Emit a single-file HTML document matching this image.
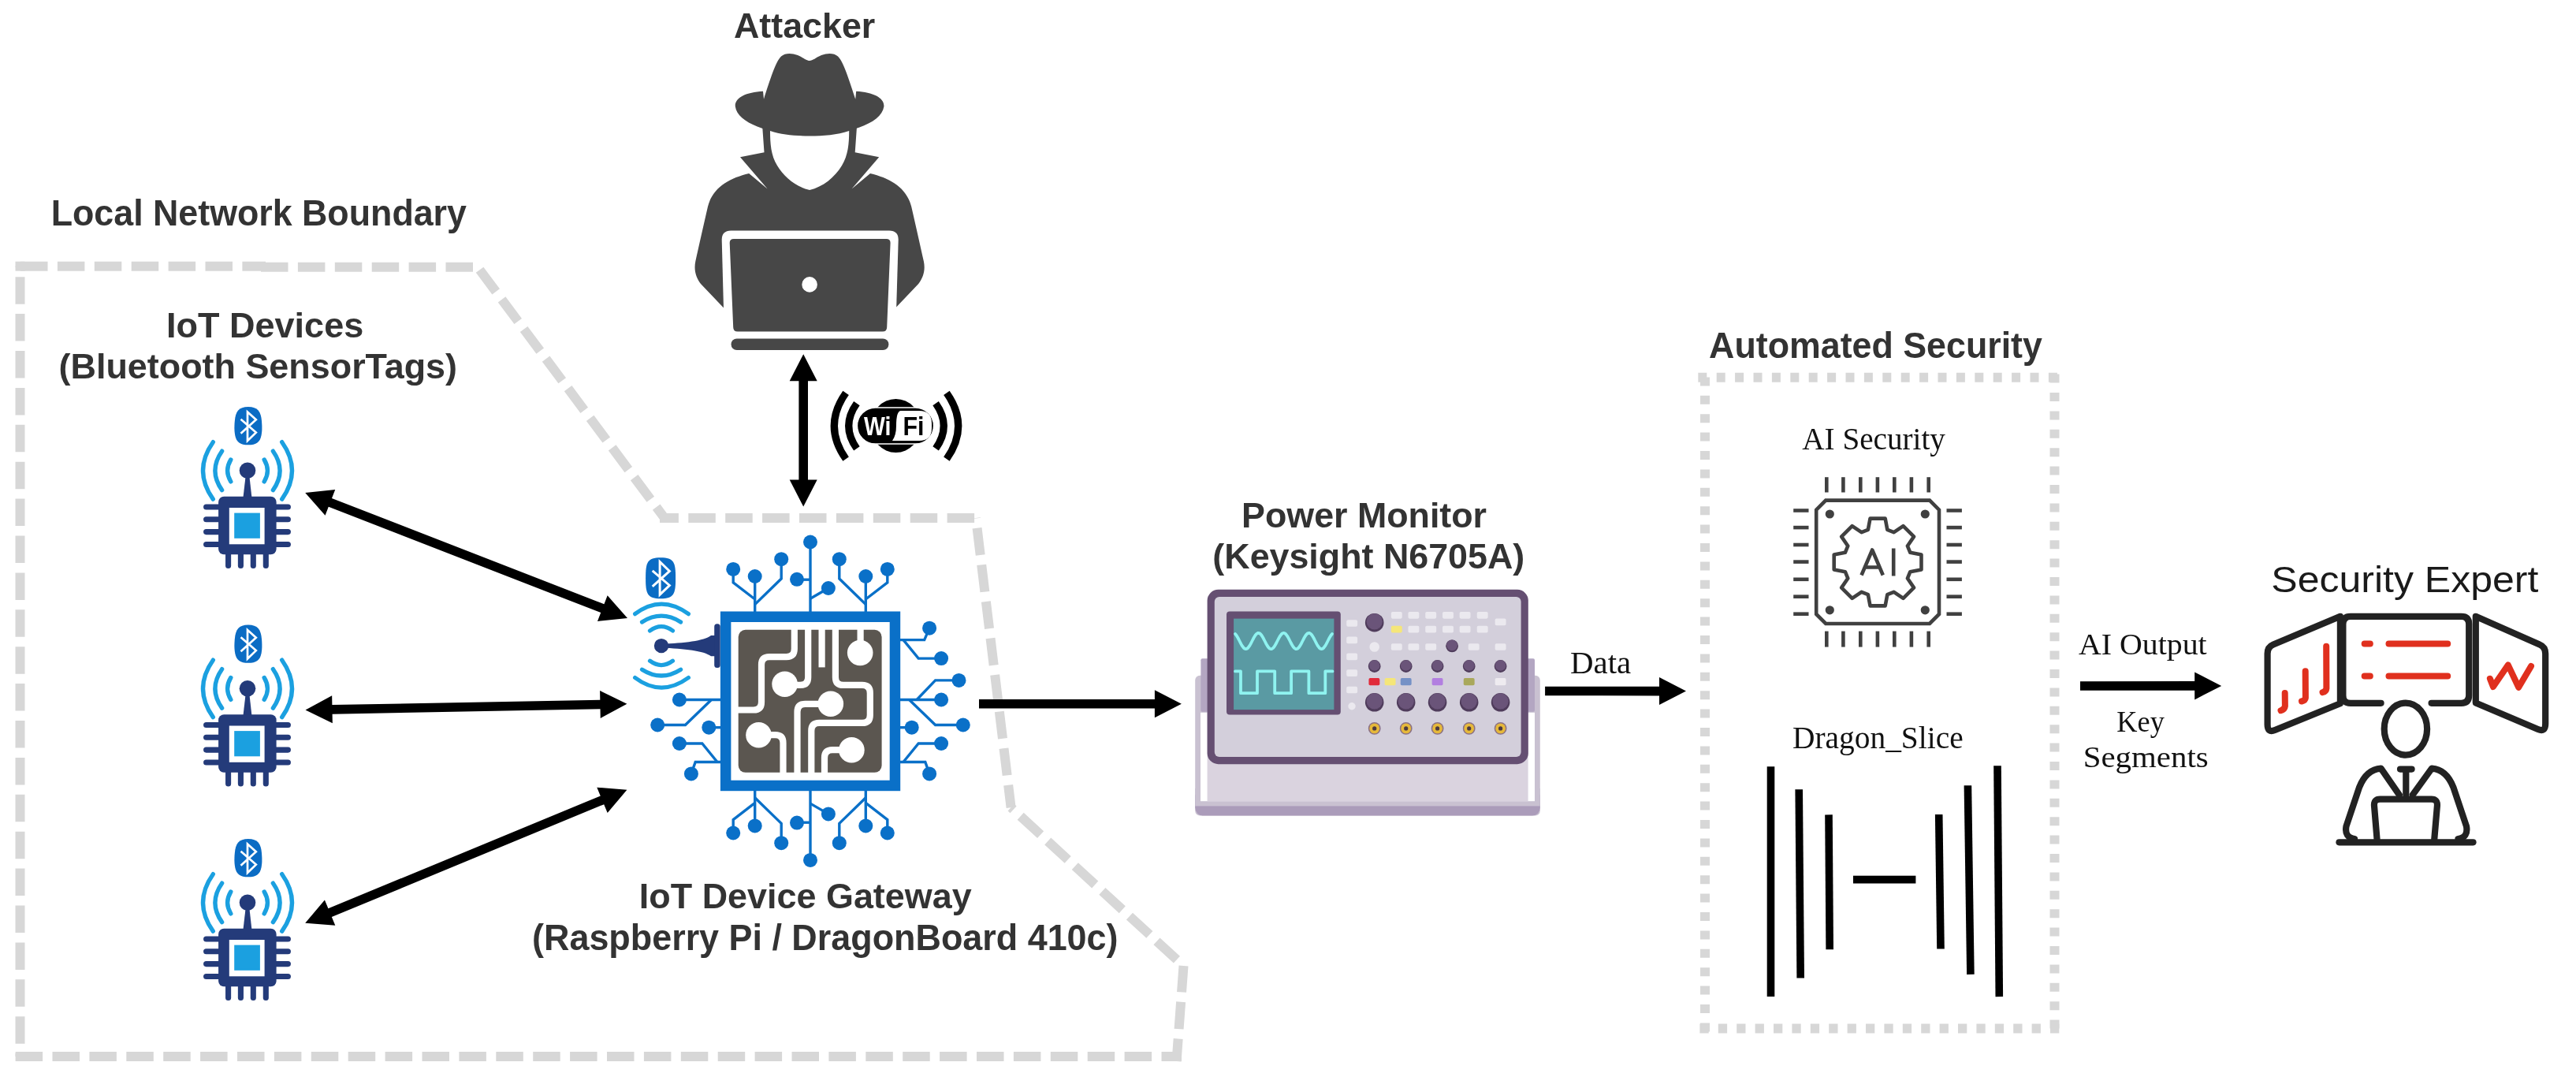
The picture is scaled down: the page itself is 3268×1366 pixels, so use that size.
<!DOCTYPE html>
<html><head><meta charset="utf-8"><style>
html,body{margin:0;padding:0;background:#fff;}
body{width:3268px;height:1366px;overflow:hidden;font-family:"Liberation Sans",sans-serif;}
svg{display:block;will-change:transform;}
</style></head><body>
<svg width="3268" height="1366" viewBox="0 0 3268 1366">
<g fill="none">
<line x1="25.5" y1="337.7" x2="337" y2="337.7" stroke="#d7d7d7" stroke-width="12" stroke-dasharray="34.5 12.4" stroke-dashoffset="46.4"/>
<rect x="19.5" y="331.7" width="12" height="12" fill="#d7d7d7"/>
<line x1="331" y1="338.8" x2="606" y2="338.8" stroke="#d7d7d7" stroke-width="12" stroke-dasharray="34.5 12.4" stroke-dashoffset="0"/>
<line x1="606" y1="338.8" x2="843" y2="657" stroke="#d7d7d7" stroke-width="12" stroke-dasharray="34.5 12.4" stroke-dashoffset="42.6"/>
<line x1="837" y1="657" x2="1244" y2="657" stroke="#d7d7d7" stroke-width="12" stroke-dasharray="34.5 12.4" stroke-dashoffset="10.6"/>
<line x1="1238" y1="657" x2="1282.6" y2="1024.2" stroke="#d7d7d7" stroke-width="12" stroke-dasharray="34.5 12.4" stroke-dashoffset="34"/>
<line x1="1282.6" y1="1024.2" x2="1501.5" y2="1225" stroke="#d7d7d7" stroke-width="12" stroke-dasharray="34.5 12.4" stroke-dashoffset="30.5"/>
<line x1="1501.5" y1="1225" x2="1492.56" y2="1345.98" stroke="#d7d7d7" stroke-width="12" stroke-dasharray="34.5 12.4" stroke-dashoffset="1"/>
<line x1="19.5" y1="1340" x2="1499" y2="1340" stroke="#d7d7d7" stroke-width="12" stroke-dasharray="34.5 12.4" stroke-dashoffset="46.8"/>
<line x1="25.5" y1="337.7" x2="25.5" y2="1340" stroke="#d7d7d7" stroke-width="12" stroke-dasharray="34.5 12.4" stroke-dashoffset="33.4"/>
<line x1="2154.3" y1="478.7" x2="2612.6" y2="478.7" stroke="#d7d7d7" stroke-width="12" stroke-dasharray="11 12.4" stroke-dashoffset="0"/>
<line x1="2606.5" y1="474.6" x2="2606.5" y2="1309.9" stroke="#d7d7d7" stroke-width="12" stroke-dasharray="11 12.4" stroke-dashoffset="0"/>
<line x1="2156.4" y1="1304.5" x2="2612.6" y2="1304.5" stroke="#d7d7d7" stroke-width="12" stroke-dasharray="11.3 12.1" stroke-dashoffset="0"/>
<line x1="2163" y1="478.4" x2="2163" y2="1309.9" stroke="#d7d7d7" stroke-width="12" stroke-dasharray="11 12.4" stroke-dashoffset="0"/>
</g>
<g fill="#000">
<polygon points="387.2,625.1 412.55,653.73 416.79,642.82 762.21,777.09 757.97,787.99 796,784 770.65,755.37 766.41,766.28 420.99,632.01 425.23,621.11"/>
<polygon points="387.5,900.5 421.82,917.36 421.6,905.66 761.52,899.24 761.74,910.94 795.4,892.8 761.08,875.94 761.3,887.64 421.38,894.06 421.16,882.36"/>
<polygon points="387.2,1170.7 425.31,1173.87 420.83,1163.06 766.2,1020.16 770.67,1030.97 795.4,1001.8 757.29,998.63 761.77,1009.44 416.4,1152.34 411.93,1141.53"/>
<polygon points="1019.2,449.2 1001.7,483.2 1013.4,483.2 1013.4,608.5 1001.7,608.5 1019.2,642.5 1036.7,608.5 1025,608.5 1025,483.2 1036.7,483.2"/>
<polygon points="1242,898.5 1464.9,898.59 1464.89,910.29 1498.9,892.8 1464.91,875.29 1464.9,886.99 1242,886.9"/>
<polygon points="1960.1,882.3 2105,882.38 2104.99,894.08 2139,876.6 2105.01,859.08 2105,870.78 1960.1,870.7"/>
<polygon points="2639,875.8 2784.2,875.72 2784.21,887.42 2818.2,869.9 2784.19,852.42 2784.2,864.12 2639,864.2"/>
</g>
<g stroke="#000" stroke-width="9.6" stroke-linecap="butt">
<line x1="2246.5" y1="972.3" x2="2246.5" y2="1264.1"/>
<line x1="2282.2" y1="1001.3" x2="2284.2" y2="1240.5"/>
<line x1="2320" y1="1033.4" x2="2321.2" y2="1204.2"/>
<line x1="2459.7" y1="1033" x2="2462" y2="1203.5"/>
<line x1="2496.4" y1="996.3" x2="2499.9" y2="1235.9"/>
<line x1="2534" y1="971.3" x2="2536.3" y2="1264.1"/>
</g>
<rect x="2351" y="1110.7" width="79.4" height="9.8" fill="#000"/>
<text x="930.98" y="48.3" font-family="&quot;Liberation Sans&quot;, sans-serif" font-weight="bold" font-size="45.24" fill="#333" textLength="179.27" lengthAdjust="spacingAndGlyphs">Attacker</text>
<text x="64.68" y="285.8" font-family="&quot;Liberation Sans&quot;, sans-serif" font-weight="bold" font-size="46.69" fill="#333" textLength="527.25" lengthAdjust="spacingAndGlyphs">Local Network Boundary</text>
<text x="211.06" y="427.8" font-family="&quot;Liberation Sans&quot;, sans-serif" font-weight="bold" font-size="44.51" fill="#333" textLength="250.18" lengthAdjust="spacingAndGlyphs">IoT Devices</text>
<text x="74.56" y="480" font-family="&quot;Liberation Sans&quot;, sans-serif" font-weight="bold" font-size="44.8" fill="#333" textLength="505.47" lengthAdjust="spacingAndGlyphs">(Bluetooth SensorTags)</text>
<text x="810.87" y="1152.3" font-family="&quot;Liberation Sans&quot;, sans-serif" font-weight="bold" font-size="44.8" fill="#333" textLength="421.8" lengthAdjust="spacingAndGlyphs">IoT Device Gateway</text>
<text x="675.06" y="1204.6" font-family="&quot;Liberation Sans&quot;, sans-serif" font-weight="bold" font-size="45.67" fill="#333" textLength="743.44" lengthAdjust="spacingAndGlyphs">(Raspberry Pi / DragonBoard 410c)</text>
<text x="1575.08" y="668.6" font-family="&quot;Liberation Sans&quot;, sans-serif" font-weight="bold" font-size="44.65" fill="#333" textLength="310.97" lengthAdjust="spacingAndGlyphs">Power Monitor</text>
<text x="1538.36" y="720.8" font-family="&quot;Liberation Sans&quot;, sans-serif" font-weight="bold" font-size="45.09" fill="#333" textLength="395.83" lengthAdjust="spacingAndGlyphs">(Keysight N6705A)</text>
<text x="2168.08" y="454.2" font-family="&quot;Liberation Sans&quot;, sans-serif" font-weight="bold" font-size="45.67" fill="#333" textLength="422.81" lengthAdjust="spacingAndGlyphs">Automated Security</text>
<text x="2286.31" y="569.5" font-family="&quot;Liberation Serif&quot;, sans-serif" font-weight="normal" font-size="40.46" fill="#111" textLength="181.6" lengthAdjust="spacingAndGlyphs">AI Security</text>
<text x="2274.02" y="948.7" font-family="&quot;Liberation Serif&quot;, sans-serif" font-weight="normal" font-size="39.24" fill="#111" textLength="216.61" lengthAdjust="spacingAndGlyphs">Dragon_Slice</text>
<text x="1992.07" y="854.2" font-family="&quot;Liberation Serif&quot;, sans-serif" font-weight="normal" font-size="39.54" fill="#111" textLength="77.15" lengthAdjust="spacingAndGlyphs">Data</text>
<text x="2637" y="829.6" font-family="&quot;Liberation Serif&quot;, sans-serif" font-weight="normal" font-size="38.93" fill="#111" textLength="162.62" lengthAdjust="spacingAndGlyphs">AI Output</text>
<text x="2685.31" y="927.5" font-family="&quot;Liberation Serif&quot;, sans-serif" font-weight="normal" font-size="38.93" fill="#111" textLength="60.51" lengthAdjust="spacingAndGlyphs">Key</text>
<text x="2642.74" y="972.6" font-family="&quot;Liberation Serif&quot;, sans-serif" font-weight="normal" font-size="38.32" fill="#111" textLength="158.94" lengthAdjust="spacingAndGlyphs">Segments</text>
<text x="2881.35" y="750.9" font-family="&quot;Liberation Sans&quot;, sans-serif" font-weight="normal" font-size="46.55" fill="#1a1a1a" textLength="338.95" lengthAdjust="spacingAndGlyphs">Security Expert</text>
<g fill="#474747"><path d="M968 115.7 L969 125.7 C977 101 984 78 991 71.5 C996 67 1004 67 1012 70 C1019 73 1023 77 1027.1 77 C1031 77 1035 73 1042 70 C1050 67 1058 67 1063 71.5 C1070 78 1077 101 1085.2 125.7 L1086.2 115.7 C1108 117 1122 124 1121.4 135 C1118 158 1072 171.4 1027.1 171.4 C982 171.4 936 158 932.8 135 C932 124 946 117 968 115.7 Z"/><path d="M967 158 L969.5 193.3 L939 199.3 L973.6 239.4 L950.2 220 C925 226 904 238 898 262 C892 288 886 315 882.3 331.4 C880 343 883 352 889 360 L919 391.6 L1135.2 391.6 L1165.2 360 C1171.2 352 1174.2 343 1171.9 331.4 C1168.2 315 1162.2 288 1156.2 262 C1150.2 238 1129.2 226 1104 220 L1080.6 239.4 L1115.2 199.3 L1084.7 193.3 L1087.2 158 Z"/></g><path fill="#fff" d="M977 166 C977 182 978 197 986 210 C995 225 1010 237 1027.1 241 C1044 237 1059 225 1068 210 C1076 197 1077.2 182 1077.2 166 C1062 171 1045 172.5 1027.1 172.5 C1009 172.5 992 171 977 166 Z"/><path fill="#fff" d="M915.7 304 Q915.7 292.4 927.3 292.4 L1128.1 292.4 Q1139.7 292.4 1139.7 304 L1136 430 L919 430 Z"/><path fill="#474747" d="M925.7 308 Q925.7 302.9 931 302.9 L1124.3 302.9 Q1129.6 302.9 1129.6 308 L1125.2 415 Q1125.2 420.6 1119.6 420.6 L935.8 420.6 Q930.2 420.6 930.2 415 Z"/><circle cx="1027.1" cy="360.9" r="9.8" fill="#fff"/><rect x="927.5" y="429.5" width="199.9" height="14.5" rx="7.2" fill="#474747"/><g><path d="M1073.1 498.3 Q1043.5 540.2 1073.1 582.1" fill="none" stroke="#000" stroke-width="9.2"/><path d="M1200.9 498.3 Q1230.5 540.2 1200.9 582.1" fill="none" stroke="#000" stroke-width="9.2"/><path d="M1086.9 511.6 Q1066.5 540.2 1086.9 568.8" fill="none" stroke="#000" stroke-width="9.2"/><path d="M1187.1 511.6 Q1207.5 540.2 1187.1 568.8" fill="none" stroke="#000" stroke-width="9.2"/><ellipse cx="1136.5" cy="540" rx="32" ry="34" fill="#000"/><rect x="1087.5" y="517" width="97" height="46" rx="23" fill="#000" stroke="#fff" stroke-width="1.3"/><path d="M1143 521 L1166 521 Q1182 521 1182 537 L1182 543 Q1182 559 1166 559 L1132 559 Q1137 552 1137 540 Q1137 521 1143 521 Z" fill="#fff"/><text x="1096" y="552.4" font-family="&quot;Liberation Sans&quot;, sans-serif" font-weight="bold" font-size="33" fill="#fff" textLength="34.5" lengthAdjust="spacingAndGlyphs">Wi</text><text x="1145.5" y="552.4" font-family="&quot;Liberation Sans&quot;, sans-serif" font-weight="bold" font-size="33" fill="#000" textLength="27" lengthAdjust="spacingAndGlyphs">Fi</text></g><g transform="translate(0 0)"><path fill="#0b6cc4" d="M314.9 516 C327 516 331 522 332 534 C332.6 542 332.6 546 331.6 552 C330 561 325 564.3 314.9 564.3 C304.8 564.3 299.8 561 298.2 552 C297.2 546 297.2 542 297.8 534 C298.8 522 302.8 516 314.9 516 Z"/><path fill="none" stroke="#fff" stroke-width="2.7" stroke-linejoin="miter" d="M305.5 531.7 L324.8 548.6 L314 559 L314 522.5 L324.8 532.3 L305.5 549.8"/><g fill="none" stroke="#1ba0e0" stroke-width="5.4" stroke-linecap="round"><path d="M292.8 583 Q284.4 596.9 292.8 610.8"/><path d="M335.2 583 Q343.6 596.9 335.2 610.8"/><path d="M281.6 572.2 Q264.2 596.9 281.6 621.6"/><path d="M346.4 572.2 Q363.8 596.9 346.4 621.6"/><path d="M270.3 560.7 Q244.7 596.9 270.3 633.1"/><path d="M357.7 560.7 Q383.3 596.9 357.7 633.1"/></g><circle cx="314" cy="596.7" r="10.3" fill="#243b7a"/><path fill="#243b7a" d="M311.6 604 L316.4 604 L319.4 631 L308.5 631 Z"/><g stroke="#243b7a" stroke-width="7.1" stroke-linecap="round"><line x1="261.6" y1="643" x2="280" y2="643"/><line x1="348" y1="643" x2="365.4" y2="643"/><line x1="261.6" y1="658.8" x2="280" y2="658.8"/><line x1="348" y1="658.8" x2="365.4" y2="658.8"/><line x1="261.6" y1="674.6" x2="280" y2="674.6"/><line x1="348" y1="674.6" x2="365.4" y2="674.6"/><line x1="261.6" y1="690.5" x2="280" y2="690.5"/><line x1="348" y1="690.5" x2="365.4" y2="690.5"/><line x1="289.6" y1="700" x2="289.6" y2="717.5"/><line x1="305.4" y1="700" x2="305.4" y2="717.5"/><line x1="321.3" y1="700" x2="321.3" y2="717.5"/><line x1="337.3" y1="700" x2="337.3" y2="717.5"/></g><rect x="277.1" y="629.7" width="73.5" height="73.5" rx="7" fill="#243b7a"/><rect x="290.8" y="644" width="44.8" height="46.3" fill="#fff"/><rect x="297.2" y="650.6" width="32.7" height="32.2" fill="#1ba0e0"/></g><g transform="translate(0 276.5)"><path fill="#0b6cc4" d="M314.9 516 C327 516 331 522 332 534 C332.6 542 332.6 546 331.6 552 C330 561 325 564.3 314.9 564.3 C304.8 564.3 299.8 561 298.2 552 C297.2 546 297.2 542 297.8 534 C298.8 522 302.8 516 314.9 516 Z"/><path fill="none" stroke="#fff" stroke-width="2.7" stroke-linejoin="miter" d="M305.5 531.7 L324.8 548.6 L314 559 L314 522.5 L324.8 532.3 L305.5 549.8"/><g fill="none" stroke="#1ba0e0" stroke-width="5.4" stroke-linecap="round"><path d="M292.8 583 Q284.4 596.9 292.8 610.8"/><path d="M335.2 583 Q343.6 596.9 335.2 610.8"/><path d="M281.6 572.2 Q264.2 596.9 281.6 621.6"/><path d="M346.4 572.2 Q363.8 596.9 346.4 621.6"/><path d="M270.3 560.7 Q244.7 596.9 270.3 633.1"/><path d="M357.7 560.7 Q383.3 596.9 357.7 633.1"/></g><circle cx="314" cy="596.7" r="10.3" fill="#243b7a"/><path fill="#243b7a" d="M311.6 604 L316.4 604 L319.4 631 L308.5 631 Z"/><g stroke="#243b7a" stroke-width="7.1" stroke-linecap="round"><line x1="261.6" y1="643" x2="280" y2="643"/><line x1="348" y1="643" x2="365.4" y2="643"/><line x1="261.6" y1="658.8" x2="280" y2="658.8"/><line x1="348" y1="658.8" x2="365.4" y2="658.8"/><line x1="261.6" y1="674.6" x2="280" y2="674.6"/><line x1="348" y1="674.6" x2="365.4" y2="674.6"/><line x1="261.6" y1="690.5" x2="280" y2="690.5"/><line x1="348" y1="690.5" x2="365.4" y2="690.5"/><line x1="289.6" y1="700" x2="289.6" y2="717.5"/><line x1="305.4" y1="700" x2="305.4" y2="717.5"/><line x1="321.3" y1="700" x2="321.3" y2="717.5"/><line x1="337.3" y1="700" x2="337.3" y2="717.5"/></g><rect x="277.1" y="629.7" width="73.5" height="73.5" rx="7" fill="#243b7a"/><rect x="290.8" y="644" width="44.8" height="46.3" fill="#fff"/><rect x="297.2" y="650.6" width="32.7" height="32.2" fill="#1ba0e0"/></g><g transform="translate(0 548)"><path fill="#0b6cc4" d="M314.9 516 C327 516 331 522 332 534 C332.6 542 332.6 546 331.6 552 C330 561 325 564.3 314.9 564.3 C304.8 564.3 299.8 561 298.2 552 C297.2 546 297.2 542 297.8 534 C298.8 522 302.8 516 314.9 516 Z"/><path fill="none" stroke="#fff" stroke-width="2.7" stroke-linejoin="miter" d="M305.5 531.7 L324.8 548.6 L314 559 L314 522.5 L324.8 532.3 L305.5 549.8"/><g fill="none" stroke="#1ba0e0" stroke-width="5.4" stroke-linecap="round"><path d="M292.8 583 Q284.4 596.9 292.8 610.8"/><path d="M335.2 583 Q343.6 596.9 335.2 610.8"/><path d="M281.6 572.2 Q264.2 596.9 281.6 621.6"/><path d="M346.4 572.2 Q363.8 596.9 346.4 621.6"/><path d="M270.3 560.7 Q244.7 596.9 270.3 633.1"/><path d="M357.7 560.7 Q383.3 596.9 357.7 633.1"/></g><circle cx="314" cy="596.7" r="10.3" fill="#243b7a"/><path fill="#243b7a" d="M311.6 604 L316.4 604 L319.4 631 L308.5 631 Z"/><g stroke="#243b7a" stroke-width="7.1" stroke-linecap="round"><line x1="261.6" y1="643" x2="280" y2="643"/><line x1="348" y1="643" x2="365.4" y2="643"/><line x1="261.6" y1="658.8" x2="280" y2="658.8"/><line x1="348" y1="658.8" x2="365.4" y2="658.8"/><line x1="261.6" y1="674.6" x2="280" y2="674.6"/><line x1="348" y1="674.6" x2="365.4" y2="674.6"/><line x1="261.6" y1="690.5" x2="280" y2="690.5"/><line x1="348" y1="690.5" x2="365.4" y2="690.5"/><line x1="289.6" y1="700" x2="289.6" y2="717.5"/><line x1="305.4" y1="700" x2="305.4" y2="717.5"/><line x1="321.3" y1="700" x2="321.3" y2="717.5"/><line x1="337.3" y1="700" x2="337.3" y2="717.5"/></g><rect x="277.1" y="629.7" width="73.5" height="73.5" rx="7" fill="#243b7a"/><rect x="290.8" y="644" width="44.8" height="46.3" fill="#fff"/><rect x="297.2" y="650.6" width="32.7" height="32.2" fill="#1ba0e0"/></g>
<g><g fill="none" stroke="#0a70c8" stroke-width="3.4" stroke-linejoin="miter"><polyline points="1028,776 1028,687.5"/><polyline points="1028,735.2 1011,735.2"/><polyline points="1028,759.3 1050.9,746"/><polyline points="957.7,776 957.7,731"/><polyline points="957.7,760 930.2,738.8 930.2,721.9"/><polyline points="957.7,766.6 991.2,734 991.2,709.2"/><polyline points="1098.3,776 1098.3,731"/><polyline points="1098.3,760 1125.8,738.8 1125.8,721.9"/><polyline points="1098.3,766.6 1064.8,734 1064.8,709.2"/><polyline points="1028,1002.4 1028,1090.9"/><polyline points="1028,1043.2 1011,1043.2"/><polyline points="1028,1019.1 1050.9,1032.4"/><polyline points="957.7,1002.4 957.7,1047.4"/><polyline points="957.7,1018.4 930.2,1039.6 930.2,1056.5"/><polyline points="957.7,1011.8 991.2,1044.4 991.2,1069.2"/><polyline points="1098.3,1002.4 1098.3,1047.4"/><polyline points="1098.3,1018.4 1125.8,1039.6 1125.8,1056.5"/><polyline points="1098.3,1011.8 1064.8,1044.4 1064.8,1069.2"/><polyline points="1141,811.6 1172.7,811.6 1179.1,796.7"/><polyline points="1146,811.6 1165.2,835.1 1194.1,835.1"/><polyline points="1141,887.5 1194.1,887.5"/><polyline points="1163.1,887.5 1186.6,862.9 1216.5,862.9"/><polyline points="1153.5,887.5 1186.6,919.5 1221.8,919.5"/><polyline points="1141,922.7 1156.7,922.7"/><polyline points="1141,966.5 1173.8,966.5 1179.1,981.4"/><polyline points="1146,966.5 1165.2,943 1194.1,943"/><polyline points="915,887.5 861.9,887.5"/><polyline points="902.5,887.5 869.4,919.5 834.2,919.5"/><polyline points="915,922.7 899.3,922.7"/><polyline points="915,966.5 882.2,966.5 876.9,981.4"/><polyline points="910,966.5 890.8,943 861.9,943"/></g><g fill="#0a70c8"><circle cx="1028" cy="687.5" r="9"/><circle cx="1011" cy="734.8" r="9"/><circle cx="1050.9" cy="746" r="9"/><circle cx="957.7" cy="731" r="9"/><circle cx="930.2" cy="721.9" r="9"/><circle cx="991.2" cy="709.2" r="9"/><circle cx="1098.3" cy="731" r="9"/><circle cx="1125.8" cy="721.9" r="9"/><circle cx="1064.8" cy="709.2" r="9"/><circle cx="1028" cy="1090.9" r="9"/><circle cx="1011" cy="1043.6" r="9"/><circle cx="1050.9" cy="1032.4" r="9"/><circle cx="957.7" cy="1047.4" r="9"/><circle cx="930.2" cy="1056.5" r="9"/><circle cx="991.2" cy="1069.2" r="9"/><circle cx="1098.3" cy="1047.4" r="9"/><circle cx="1125.8" cy="1056.5" r="9"/><circle cx="1064.8" cy="1069.2" r="9"/><circle cx="1179.1" cy="796.7" r="9"/><circle cx="1194.1" cy="835.1" r="9"/><circle cx="1194.1" cy="887.5" r="9"/><circle cx="1216.5" cy="862.9" r="9"/><circle cx="1221.8" cy="919.5" r="9"/><circle cx="1156.7" cy="922.7" r="9"/><circle cx="1179.1" cy="981.4" r="9"/><circle cx="1194.1" cy="943" r="9"/><circle cx="861.9" cy="887.5" r="9"/><circle cx="834.2" cy="919.5" r="9"/><circle cx="899.3" cy="922.7" r="9"/><circle cx="876.9" cy="981.4" r="9"/><circle cx="861.9" cy="943" r="9"/></g><rect x="920.65" y="782.25" width="214.8" height="214.2" fill="#fff" stroke="#0a70c8" stroke-width="13.5"/><rect x="936.7" y="798.8" width="181.9" height="181" rx="9" fill="#5b5650"/><g fill="none" stroke="#fff" stroke-width="8.2" stroke-linecap="butt"><path d="M1007.8 790 L1007.8 823.1 Q1007.8 833.1 997.8 833.1 L976 833.1 Q966 833.1 966 843.1 L966 890.5 Q966 900.5 956 900.5 L932 900.5"/><path d="M1025.2 790 L1025.2 858.9 Q1025.2 868.9 1015.2 868.9 L995.6 868.9"/><path d="M1042.6 790 L1042.6 846.4"/><path d="M1059.9 790 L1059.9 858.9 Q1059.9 868.9 1069.9 868.9 L1093.8 868.9 Q1103.8 868.9 1103.8 878.9 L1103.8 906.9 Q1103.8 916.9 1093.8 916.9 L1039.3 916.9 Q1029.3 916.9 1029.3 926.9 L1029.3 985"/><path d="M1091.6 790 L1091.6 828"/><path d="M1053.8 892.8 L1021.5 892.8 Q1011.5 892.8 1011.5 902.8 L1011.5 985"/><path d="M962.5 932.2 L983.5 932.2 Q993.5 932.2 993.5 942.2 L993.5 985"/><path d="M1080.4 951.2 L1056 951.2 Q1046 951.2 1046 961.2 L1046 985"/></g><g fill="#fff"><circle cx="995.6" cy="867.8" r="16.3"/><circle cx="1091.2" cy="828" r="16.3"/><circle cx="1053.8" cy="892.8" r="16.3"/><circle cx="962.5" cy="932.2" r="16.3"/><circle cx="1080.4" cy="951.2" r="16.3"/></g><g fill="none" stroke="#1ba0e0" stroke-width="5.2" stroke-linecap="round"><path d="M824.5 800 Q839 789.2 853.5 800"/><path d="M824.5 838.2 Q839 849 853.5 838.2"/><path d="M814.5 789 Q839 773.4 863.6 789"/><path d="M814.5 849.2 Q839 864.8 863.6 849.2"/><path d="M805.6 778.7 Q839 753.5 873.4 778.7"/><path d="M805.6 859.5 Q839 884.7 873.4 859.5"/></g><path fill="#243b7a" d="M839 816.8 C868 815.5 893 813 902 806 L908 806 L908 832.2 L902 832.2 C893 825.2 868 822.7 839 821.4 Z"/><rect x="906.2" y="791.2" width="7.5" height="55.8" rx="3.5" fill="#243b7a"/><circle cx="839" cy="819.1" r="9.2" fill="#243b7a"/><path fill="#0b6cc4" d="M838.1 707.2 C855.2 707.2 857.1 713.44 857.1 733.2 C857.1 752.96 855.2 759.2 838.1 759.2 C821 759.2 819.1 752.96 819.1 733.2 C819.1 713.44 821 707.2 838.1 707.2 Z"/><path fill="none" stroke="#fff" stroke-width="2.98" d="M827.72 723.81 L849.37 742.48 L837.11 754.19 L837.11 712.54 L849.37 724.47 L827.72 743.8"/></g>
<g><rect x="1516.2" y="856.8" width="437.6" height="177.8" rx="6" fill="#c9c1d1"/><rect x="1516.2" y="1000" width="437.6" height="34.6" rx="10" fill="#ab9cba"/><rect x="1516.2" y="1000" width="437.6" height="22.4" fill="#c9c1d1"/><rect x="1523" y="903.8" width="424" height="112.4" fill="#fff"/><rect x="1531.6" y="900" width="407" height="116.2" fill="#dad3df"/><rect x="1523.4" y="835.3" width="10" height="67.5" rx="2" fill="#b3a6c2"/><rect x="1937" y="835.3" width="10" height="67.5" rx="2" fill="#b3a6c2"/><rect x="1531.6" y="747.8" width="407.2" height="221.4" rx="14" fill="#654f72"/><rect x="1540.8" y="757" width="388.8" height="203" rx="6" fill="#d3cfdb"/><rect x="1556" y="775.6" width="144.8" height="130.9" rx="4" fill="#654f72"/><rect x="1565.1" y="784.6" width="127.3" height="115.5" fill="#5a9aa3"/><polyline points="1567,804 1568.5,805.79 1570,808.19 1571.5,811.01 1573,814 1574.5,816.9 1576,819.47 1577.5,821.48 1579,822.76 1580.5,823.2 1582,822.76 1583.5,821.48 1585,819.47 1586.5,816.9 1588,814 1589.5,811.01 1591,808.19 1592.5,805.79 1594,804 1595.5,803 1597,802.85 1598.5,803.58 1600,805.12 1601.5,807.33 1603,810.04 1604.5,813 1606,815.96 1607.5,818.67 1609,820.88 1610.5,822.42 1612,823.15 1613.5,823 1615,822 1616.5,820.21 1618,817.81 1619.5,814.99 1621,812 1622.5,809.1 1624,806.53 1625.5,804.52 1627,803.24 1628.5,802.8 1630,803.24 1631.5,804.52 1633,806.53 1634.5,809.1 1636,812 1637.5,814.99 1639,817.81 1640.5,820.21 1642,822 1643.5,823 1645,823.15 1646.5,822.42 1648,820.88 1649.5,818.67 1651,815.96 1652.5,813 1654,810.04 1655.5,807.33 1657,805.12 1658.5,803.58 1660,802.85 1661.5,803 1663,804 1664.5,805.79 1666,808.19 1667.5,811.01 1669,814 1670.5,816.9 1672,819.47 1673.5,821.48 1675,822.76 1676.5,823.2 1678,822.76 1679.5,821.48 1681,819.47 1682.5,816.9 1684,814 1685.5,811.01 1687,808.19 1688.5,805.79 1690,804" fill="none" stroke="#8ff3f0" stroke-width="3.8" stroke-linejoin="round" stroke-linecap="round"/><path d="M1567 851.4 L1574 851.4 L1574 879.2 L1595 879.2 L1595 851.4 L1617.2 851.4 L1617.2 879.2 L1638.1 879.2 L1638.1 851.4 L1660.4 851.4 L1660.4 879.2 L1681.3 879.2 L1681.3 851.4 L1690.5 851.4" fill="none" stroke="#8ff3f0" stroke-width="3.8" stroke-linejoin="round" stroke-linecap="round"/><rect x="1708.2" y="786.15" width="13.9" height="8.7" rx="2" fill="#ebe9ef"/><rect x="1708.2" y="807.45" width="13.9" height="8.7" rx="2" fill="#ebe9ef"/><rect x="1708.2" y="828.45" width="13.9" height="8.7" rx="2" fill="#ebe9ef"/><rect x="1708.2" y="849.35" width="13.9" height="8.7" rx="2" fill="#ebe9ef"/><rect x="1708.2" y="870.65" width="13.9" height="8.7" rx="2" fill="#ebe9ef"/><circle cx="1715" cy="895.8" r="4.7" fill="#ebe9ef"/><rect x="1764.85" y="775.95" width="13.9" height="8.7" rx="1.8" fill="#ebe9ef"/><rect x="1786.45" y="775.95" width="13.9" height="8.7" rx="1.8" fill="#ebe9ef"/><rect x="1808.25" y="775.95" width="13.9" height="8.7" rx="1.8" fill="#ebe9ef"/><rect x="1830.05" y="775.95" width="13.9" height="8.7" rx="1.8" fill="#ebe9ef"/><rect x="1851.65" y="775.95" width="13.9" height="8.7" rx="1.8" fill="#ebe9ef"/><rect x="1873.75" y="775.95" width="13.9" height="8.7" rx="1.8" fill="#ebe9ef"/><rect x="1896.65" y="784.55" width="13.9" height="8.7" rx="1.8" fill="#ebe9ef"/><rect x="1764.85" y="793.75" width="13.9" height="8.7" rx="1.8" fill="#f5e679"/><rect x="1786.45" y="793.75" width="13.9" height="8.7" rx="1.8" fill="#ebe9ef"/><rect x="1808.25" y="793.75" width="13.9" height="8.7" rx="1.8" fill="#ebe9ef"/><rect x="1830.05" y="793.75" width="13.9" height="8.7" rx="1.8" fill="#ebe9ef"/><rect x="1851.65" y="793.75" width="13.9" height="8.7" rx="1.8" fill="#ebe9ef"/><rect x="1873.75" y="793.75" width="13.9" height="8.7" rx="1.8" fill="#ebe9ef"/><circle cx="1743.7" cy="789.7" r="11.8" fill="#4f3c5b"/><circle cx="1743.7" cy="788.28" r="10.15" fill="#6a5479"/><circle cx="1743.7" cy="820.5" r="6.3" fill="#ebe9ef"/><rect x="1764.85" y="816.15" width="13.9" height="8.7" rx="1.8" fill="#ebe9ef"/><rect x="1786.45" y="816.15" width="13.9" height="8.7" rx="1.8" fill="#ebe9ef"/><rect x="1808.25" y="816.15" width="13.9" height="8.7" rx="1.8" fill="#ebe9ef"/><circle cx="1842.1" cy="819.3" r="7.9" fill="#4f3c5b"/><circle cx="1842.1" cy="818.35" r="6.79" fill="#6a5479"/><rect x="1862.75" y="816.15" width="13.9" height="8.7" rx="1.8" fill="#ebe9ef"/><rect x="1896.65" y="816.15" width="13.9" height="8.7" rx="1.8" fill="#ebe9ef"/><circle cx="1743.7" cy="845" r="7.9" fill="#4f3c5b"/><circle cx="1743.7" cy="844.05" r="6.79" fill="#6a5479"/><circle cx="1783.7" cy="845" r="7.9" fill="#4f3c5b"/><circle cx="1783.7" cy="844.05" r="6.79" fill="#6a5479"/><circle cx="1823.6" cy="845" r="7.9" fill="#4f3c5b"/><circle cx="1823.6" cy="844.05" r="6.79" fill="#6a5479"/><circle cx="1863.7" cy="845" r="7.9" fill="#4f3c5b"/><circle cx="1863.7" cy="844.05" r="6.79" fill="#6a5479"/><circle cx="1903.6" cy="845" r="7.9" fill="#4f3c5b"/><circle cx="1903.6" cy="844.05" r="6.79" fill="#6a5479"/><rect x="1736.45" y="860.1" width="13.9" height="9.2" rx="1.8" fill="#e12b3b"/><rect x="1756.65" y="860.1" width="13.9" height="9.2" rx="1.8" fill="#f5e679"/><rect x="1776.75" y="860.1" width="13.9" height="9.2" rx="1.8" fill="#7591c6"/><rect x="1816.65" y="860.1" width="13.9" height="9.2" rx="1.8" fill="#b27fe0"/><rect x="1856.75" y="860.1" width="13.9" height="9.2" rx="1.8" fill="#a9a85c"/><rect x="1896.65" y="860.1" width="13.9" height="9.2" rx="1.8" fill="#eeebf0"/><circle cx="1743.7" cy="890.8" r="11.8" fill="#4f3c5b"/><circle cx="1743.7" cy="889.38" r="10.15" fill="#6a5479"/><circle cx="1783.7" cy="890.8" r="11.8" fill="#4f3c5b"/><circle cx="1783.7" cy="889.38" r="10.15" fill="#6a5479"/><circle cx="1823.6" cy="890.8" r="11.8" fill="#4f3c5b"/><circle cx="1823.6" cy="889.38" r="10.15" fill="#6a5479"/><circle cx="1863.7" cy="890.8" r="11.8" fill="#4f3c5b"/><circle cx="1863.7" cy="889.38" r="10.15" fill="#6a5479"/><circle cx="1903.6" cy="890.8" r="11.8" fill="#4f3c5b"/><circle cx="1903.6" cy="889.38" r="10.15" fill="#6a5479"/><circle cx="1743.7" cy="923.9" r="7.9" fill="#8b7184"/><circle cx="1743.7" cy="923.9" r="6.4" fill="#e6b93a"/><circle cx="1743.7" cy="923.9" r="2.6" fill="#4b3a40"/><circle cx="1783.7" cy="923.9" r="7.9" fill="#8b7184"/><circle cx="1783.7" cy="923.9" r="6.4" fill="#e6b93a"/><circle cx="1783.7" cy="923.9" r="2.6" fill="#4b3a40"/><circle cx="1823.6" cy="923.9" r="7.9" fill="#8b7184"/><circle cx="1823.6" cy="923.9" r="6.4" fill="#e6b93a"/><circle cx="1823.6" cy="923.9" r="2.6" fill="#4b3a40"/><circle cx="1863.7" cy="923.9" r="7.9" fill="#8b7184"/><circle cx="1863.7" cy="923.9" r="6.4" fill="#e6b93a"/><circle cx="1863.7" cy="923.9" r="2.6" fill="#4b3a40"/><circle cx="1903.6" cy="923.9" r="7.9" fill="#8b7184"/><circle cx="1903.6" cy="923.9" r="6.4" fill="#e6b93a"/><circle cx="1903.6" cy="923.9" r="2.6" fill="#4b3a40"/></g><g fill="none" stroke="#404040" stroke-width="4.6"><path d="M2316.2 634.6 L2448 634.6 L2460 646.6 L2460 779 L2448 791 L2316.2 791 L2304.2 779 L2304.2 646.6 Z"/><line x1="2317.3" y1="605.2" x2="2317.3" y2="624.5"/><line x1="2317.3" y1="800.6" x2="2317.3" y2="820.6"/><line x1="2338.4" y1="605.2" x2="2338.4" y2="624.5"/><line x1="2338.4" y1="800.6" x2="2338.4" y2="820.6"/><line x1="2360.3" y1="605.2" x2="2360.3" y2="624.5"/><line x1="2360.3" y1="800.6" x2="2360.3" y2="820.6"/><line x1="2381.9" y1="605.2" x2="2381.9" y2="624.5"/><line x1="2381.9" y1="800.6" x2="2381.9" y2="820.6"/><line x1="2403.3" y1="605.2" x2="2403.3" y2="624.5"/><line x1="2403.3" y1="800.6" x2="2403.3" y2="820.6"/><line x1="2424.9" y1="605.2" x2="2424.9" y2="624.5"/><line x1="2424.9" y1="800.6" x2="2424.9" y2="820.6"/><line x1="2446.7" y1="605.2" x2="2446.7" y2="624.5"/><line x1="2446.7" y1="800.6" x2="2446.7" y2="820.6"/><line x1="2275.2" y1="647.5" x2="2294.5" y2="647.5"/><line x1="2469.5" y1="647.5" x2="2488.9" y2="647.5"/><line x1="2275.2" y1="669.1" x2="2294.5" y2="669.1"/><line x1="2469.5" y1="669.1" x2="2488.9" y2="669.1"/><line x1="2275.2" y1="691" x2="2294.5" y2="691"/><line x1="2469.5" y1="691" x2="2488.9" y2="691"/><line x1="2275.2" y1="712.6" x2="2294.5" y2="712.6"/><line x1="2469.5" y1="712.6" x2="2488.9" y2="712.6"/><line x1="2275.2" y1="734.8" x2="2294.5" y2="734.8"/><line x1="2469.5" y1="734.8" x2="2488.9" y2="734.8"/><line x1="2275.2" y1="756.7" x2="2294.5" y2="756.7"/><line x1="2469.5" y1="756.7" x2="2488.9" y2="756.7"/><line x1="2275.2" y1="778.7" x2="2294.5" y2="778.7"/><line x1="2469.5" y1="778.7" x2="2488.9" y2="778.7"/><path stroke-linejoin="round" d="M2369.89 671.77 L2372.53 657.62 L2391.67 657.62 L2394.31 671.77 L2402.62 675.21 L2414.5 667.08 L2428.02 680.6 L2419.89 692.48 L2423.33 700.79 L2437.48 703.43 L2437.48 722.57 L2423.33 725.21 L2419.89 733.52 L2428.02 745.4 L2414.5 758.92 L2402.62 750.79 L2394.31 754.23 L2391.67 768.38 L2372.53 768.38 L2369.89 754.23 L2361.58 750.79 L2349.7 758.92 L2336.18 745.4 L2344.31 733.52 L2340.87 725.21 L2326.72 722.57 L2326.72 703.43 L2340.87 700.79 L2344.31 692.48 L2336.18 680.6 L2349.7 667.08 L2361.58 675.21 Z"/><path stroke-linejoin="round" d="M2361.5 729.5 L2375.2 697.5 L2388.8 729.5 M2366 719.5 L2384.5 719.5"/><line x1="2402.2" y1="695.5" x2="2402.2" y2="730.5"/></g><g fill="#404040"><circle cx="2321.3" cy="652" r="5.6"/><circle cx="2442.3" cy="652" r="5.6"/><circle cx="2321.3" cy="773.8" r="5.6"/><circle cx="2442.3" cy="773.8" r="5.6"/></g><g fill="none" stroke="#222" stroke-width="8.2" stroke-linejoin="round" stroke-linecap="round"><path d="M2968.9 781.8 L2884 817.5 Q2876.6 820.5 2876.6 829 L2876.6 919 Q2876.6 930 2886 926 L2968.9 892.3 Z"/><path d="M3140.8 781.8 L3221.8 817.5 Q3229.2 820.5 3229.2 829 L3229.2 918 Q3229.2 929 3219.8 925 L3140.8 891.5 Z"/><path d="M3020.6 891.8 L2982 891.8 Q2972.4 891.8 2972.4 882 L2972.4 791.5 Q2972.4 781.8 2982 781.8 L3122.5 781.8 Q3132.2 781.8 3132.2 791.5 L3132.2 882 Q3132.2 891.8 3122.5 891.8 L3084.6 891.8"/><ellipse cx="3051.9" cy="924.6" rx="27.2" ry="33"/><path d="M2987 1064 Q2974 1062 2976.5 1048 L2993 998.8 Q3002 976 3020.6 974.7 L3043.8 1008.1"/><path d="M3118.5 1064 Q3131.5 1062 3129 1048 L3112.5 998.8 Q3103.5 976 3085 974.7 L3060.8 1008.1"/><path d="M3045 975.6 L3059.6 975.6 M3052.3 975.6 L3052.3 1008"/><path d="M3015.5 1064 L3012 1022 Q3011.3 1013.7 3019.5 1013.7 L3084.5 1013.7 Q3092.6 1013.7 3091.9 1022 L3088.3 1064"/><line x1="2967.5" y1="1068.3" x2="3137.5" y2="1068.3"/></g><g fill="none" stroke="#e0301e" stroke-width="8" stroke-linecap="round" stroke-linejoin="round"><line x1="2999.7" y1="816.6" x2="3006.8" y2="816.6"/><line x1="3030.5" y1="816.6" x2="3105.2" y2="816.6"/><line x1="2999.7" y1="857.6" x2="3006.8" y2="857.6"/><line x1="3030.5" y1="857.6" x2="3105.2" y2="857.6"/><path d="M2951.2 819.7 L2951.4 873 Q2951 877 2946.5 878.1"/><path d="M2924.7 851.3 L2924.9 885 Q2924.5 888.5 2920 889.5"/><path d="M2898.7 879 L2898.9 895.5 Q2898.5 899.5 2893.5 901.2"/><path d="M3158.9 860.8 L3162.9 871 L3181.8 843.4 L3195.2 871.8 L3211 845"/></g>
</svg>
</body></html>
